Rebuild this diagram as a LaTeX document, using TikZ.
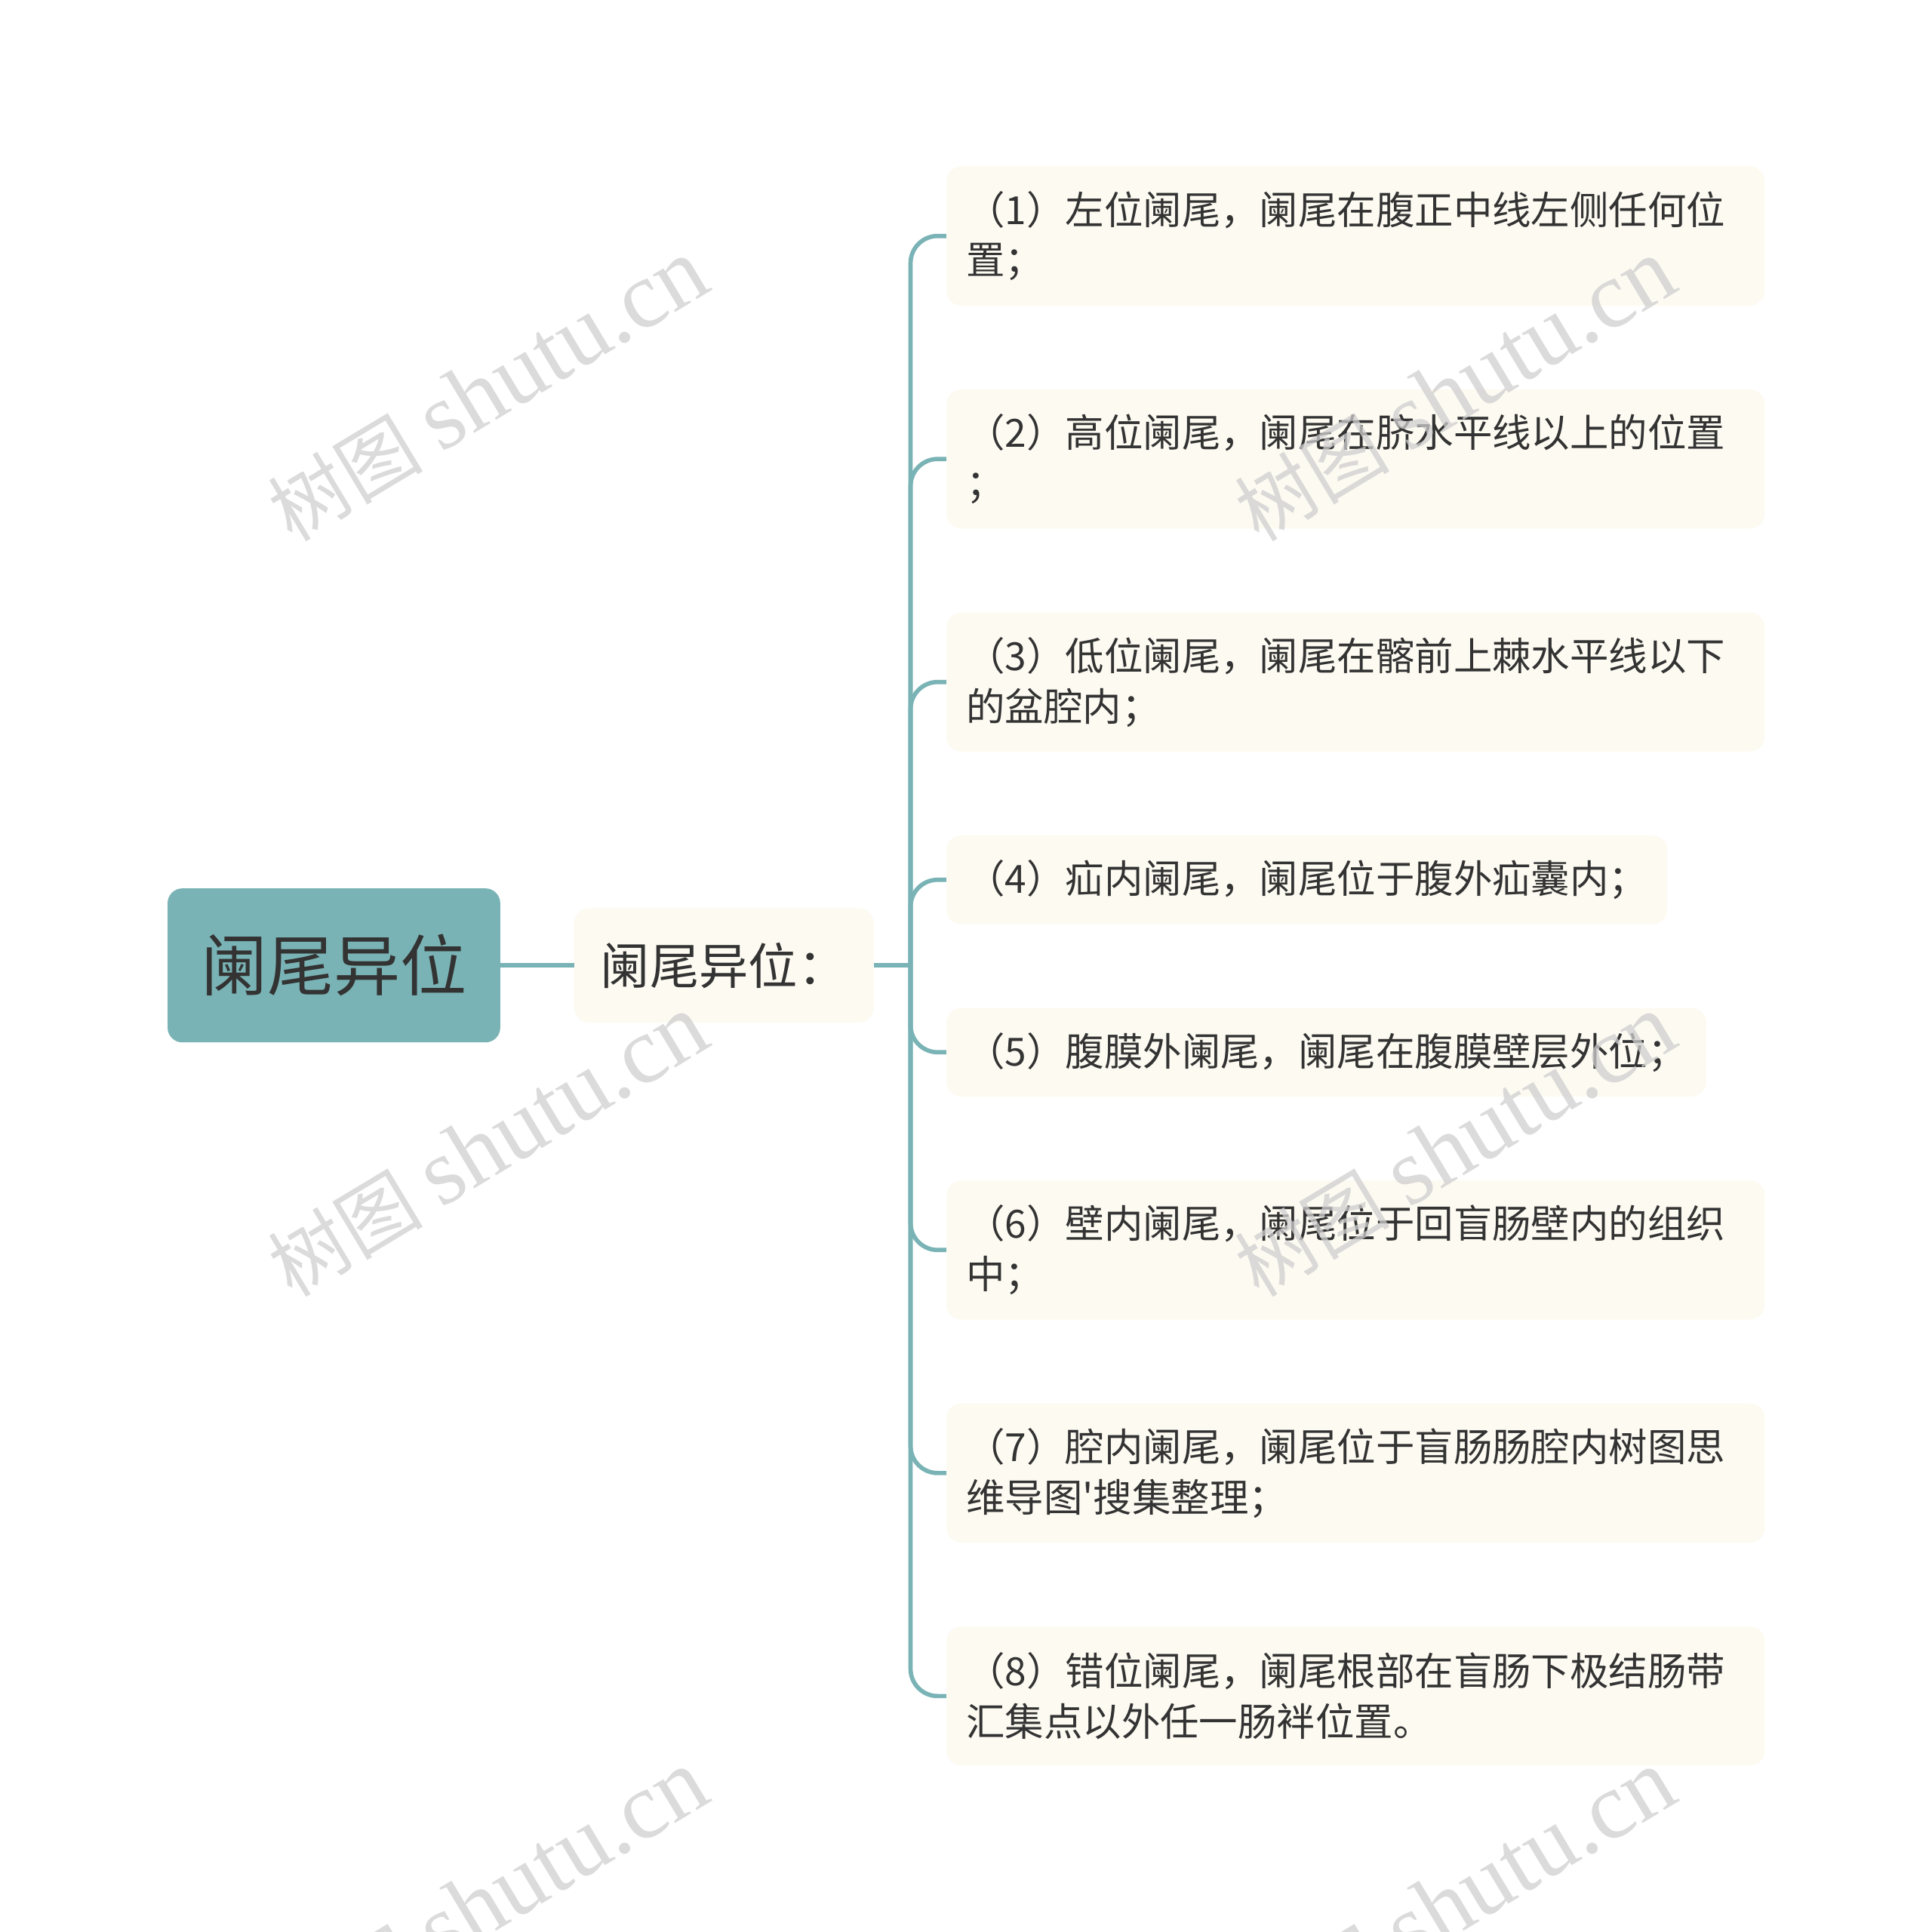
\documentclass[tikz,border=0pt]{standalone}
\usepackage{fontspec}
\setmainfont{Noto Sans CJK SC}[Ligatures=TeXOff]
\newfontfamily\wmlatin{Liberation Serif}
\newfontfamily\wmcjk{Noto Sans CJK SC}
\definecolor{tealc}{HTML}{7AB3B5}
\definecolor{creamc}{HTML}{FCFAF1}
\definecolor{txtc}{HTML}{333333}
\definecolor{wmc}{HTML}{CFCFCF}
\begin{document}
\begin{tikzpicture}[x=1pt,y=-1pt,
  rootbox/.style={rectangle, rounded corners=12pt, fill=tealc, text=txtc,
    font=\fontsize{54}{64}\selectfont, minimum width=270pt, minimum height=125pt, inner sep=0pt},
  subbox/.style={rectangle, rounded corners=12pt, fill=creamc, text=txtc,
    font=\fontsize{40}{48}\selectfont, minimum width=243pt, minimum height=93pt, inner sep=0pt},
  leafbox/.style={rectangle, rounded corners=12pt, fill=creamc, text=txtc,
    font=\fontsize{31.5}{41}\selectfont, anchor=west, inner xsep=16pt, inner ysep=0pt, align=left},
  twoline/.style={leafbox, text width=632pt, minimum height=113pt},
  oneline/.style={leafbox, minimum height=72pt},
  conn/.style={draw=tealc, line width=3.5pt},
  wmark/.style={text=wmc, opacity=0.75, rotate=31, inner sep=0pt}
]
\useasboundingbox (0,0) rectangle (1568,1568);
\clip (0,0) rectangle (1568,1568);

\node[rootbox] (root) at (271,783.5) {阑尾异位};
\node[subbox] (sub) at (587.5,783.5) {阑尾异位：};
\coordinate (jn) at (739,783.5);

\node[twoline] (c1) at (768,191.5) {（1）左位阑尾，阑尾在腹正中线左侧任何位\\置；};
\node[twoline] (c2) at (768,372.5) {（2）高位阑尾，阑尾在脐水平线以上的位置\\；};
\node[twoline] (c3) at (768,553.5) {（3）低位阑尾，阑尾在髂前上棘水平线以下\\的盆腔内；};
\node[oneline] (c4) at (768,714) {（4）疝内阑尾，阑尾位于腹外疝囊内；};
\node[oneline] (c5) at (768,854) {（5）腹膜外阑尾，阑尾在腹膜壁层外位；};
\node[twoline] (c6) at (768,1014.5) {（6）壁内阑尾，阑尾位于回盲肠壁内的组织\\中；};
\node[twoline] (c7) at (768,1195.5) {（7）腔内阑尾，阑尾位于盲肠肠腔内树图思\\维导图'搜集整理；};
\node[twoline] (c8) at (768,1376.5) {（8）错位阑尾，阑尾根部在盲肠下极结肠带\\汇集点以外任一肠袢位置。};

\draw[conn] (root.east) -- (sub.west);
\draw[conn] (sub.east) -- (jn);
\foreach \i in {1,...,8} {
  \draw[conn, rounded corners=22pt] (jn) |- (c\i.west);
}

\foreach \wx/\wy [count=\k] in {396/317, 1181/317, 396/930, 1181/930, 396/1543, 1181/1543} {
  \node[wmark] (wm\k) at (\wx,\wy) {\fontsize{63}{68}\wmcjk 树图\hspace{15pt}\fontsize{77}{80}\wmlatin shutu.cn};
}
\end{tikzpicture}
\end{document}
